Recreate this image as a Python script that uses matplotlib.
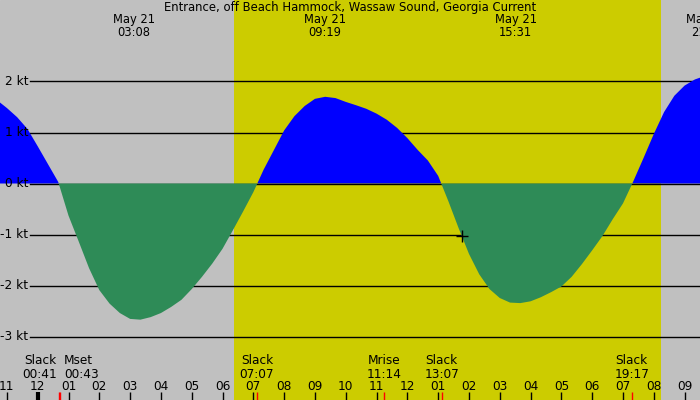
import matplotlib
matplotlib.use("Agg")
import matplotlib.pyplot as plt

# predicted current, one value every 20 minutes, hours after midnight May 21
hours = [-1.333, -1.0, -0.667, -0.333, 0.0, 0.333, 0.667, 1.0, 1.333, 1.667,
         2.0, 2.333, 2.667, 3.0, 3.333, 3.667, 4.0, 4.333, 4.667, 5.0,
         5.333, 5.667, 6.0, 6.333, 6.667, 7.0, 7.333, 7.667, 8.0, 8.333,
         8.667, 9.0, 9.333, 9.667, 10.0, 10.333, 10.667, 11.0, 11.333, 11.667,
         12.0, 12.333, 12.667, 13.0, 13.333, 13.667, 14.0, 14.333, 14.667, 15.0,
         15.333, 15.667, 16.0, 16.333, 16.667, 17.0, 17.333, 17.667, 18.0, 18.333,
         18.667, 19.0, 19.333, 19.667, 20.0, 20.333, 20.667, 21.0, 21.333, 21.667]
knots = [1.64, 1.48, 1.30, 1.07, 0.73, 0.38, 0.03, -0.63, -1.14, -1.66,
         -2.09, -2.355, -2.54, -2.655, -2.67, -2.62, -2.54, -2.42, -2.28, -2.07,
         -1.83, -1.57, -1.28, -0.92, -0.55, -0.17, 0.27, 0.655, 1.04, 1.32,
         1.52, 1.66, 1.70, 1.675, 1.60, 1.535, 1.465, 1.37, 1.25, 1.09,
         0.89, 0.66, 0.45, 0.15, -0.35, -0.88, -1.38, -1.78, -2.07, -2.245,
         -2.335, -2.345, -2.31, -2.23, -2.13, -2.02, -1.83, -1.58, -1.31, -1.03,
         -0.70, -0.39, 0.04, 0.50, 0.97, 1.40, 1.72, 1.92, 2.04, 2.11]

title = "Entrance, off Beach Hammock, Wassaw Sound, Georgia Current"
peak_hours = [3.133, 9.317, 15.517, 21.733]
peak_labels = ["03:08", "09:19", "15:31", "21:44"]

event_hours = [0.683, 0.717, 7.117, 11.233, 13.117, 19.283]
event_names = ["Slack", "Mset", "Slack", "Mrise", "Slack", "Slack"]
event_times = ["00:41", "00:43", "07:07", "11:14", "13:07", "19:17"]
event_align = ["right", "left", "center", "center", "center", "center"]

sunrise, sunset = 6.37, 20.24
grid_levels = [-3, -2, -1, 0, 1, 2]
hour_ticks = list(range(-1, 22))
cursor = (13.78, -1.03)

x0, x1 = -1.224, 21.50
y0, y1 = -4.245, 3.598

fig = plt.figure(figsize=(7, 4), dpi=100)
ax = fig.add_axes([0, 0, 1, 1])
ax.set_xlim(x0, x1)
ax.set_ylim(y0, y1)
ax.axis("off")
ax.add_patch(plt.Rectangle((0, 0), 1, 1, transform=ax.transAxes, color="#c0c0c0", zorder=0))
ax.axvspan(sunrise, sunset, color="#cccc00", zorder=0.5, lw=0)

for g in grid_levels:
    ax.axhline(g, xmin=30 / 700, xmax=1, color="black", lw=1, zorder=1 if g != 0 else 2.5)
    ax.text(x0 + 28 / 30.8, g, "%d kt" % g, ha="right", va="center", fontsize=8.7, zorder=4)

ax.fill_between(hours, knots, 0, where=[k >= 0 for k in knots], interpolate=True,
                color="#0000ff", lw=0, zorder=2)
ax.fill_between(hours, knots, 0, where=[k <= 0 for k in knots], interpolate=True,
                color="#2e8b57", lw=0, zorder=3)

ax.plot([cursor[0]], [cursor[1]], marker="+", color="black", ms=9, mew=1, zorder=4)

narrow = ["Liberation Sans Narrow", "DejaVu Sans"]
ax.text(0.5, 0.98, title, transform=ax.transAxes, ha="center", va="center", fontsize=8.4, family=narrow)
trans = ax.get_xaxis_transform()
for h, lab in zip(peak_hours, peak_labels):
    ax.text(h, 0.950, "May 21", transform=trans, ha="center", va="center", fontsize=8.3, family=narrow)
    ax.text(h, 0.920, lab, transform=trans, ha="center", va="center", fontsize=8.3, family=narrow)

for h in hour_ticks:
    lw = 3 if h == 0 else 1
    ax.plot([h, h], [0, 0.02], transform=trans, color="black", lw=lw, solid_capstyle="butt", zorder=4)
    ax.text(h, 0.035, "%02d" % ((h - 1) % 12 + 1), transform=trans, ha="center", va="center", fontsize=8.7)

for h, name, tm, al in zip(event_hours, event_names, event_times, event_align):
    ax.plot([h, h], [0, 0.02], transform=trans, color="red", lw=1, solid_capstyle="butt", zorder=5)
    dx = {"right": -1.5, "left": 3.0, "center": 0}[al]
    ax.annotate(name, (h, 0.0975), xycoords=trans, xytext=(dx, 0), textcoords="offset points",
                ha=al, va="center", fontsize=8.7)
    ax.annotate(tm, (h, 0.065), xycoords=trans, xytext=(dx, 0), textcoords="offset points",
                ha=al, va="center", fontsize=8.7)

fig.savefig("out.png", dpi=100)
